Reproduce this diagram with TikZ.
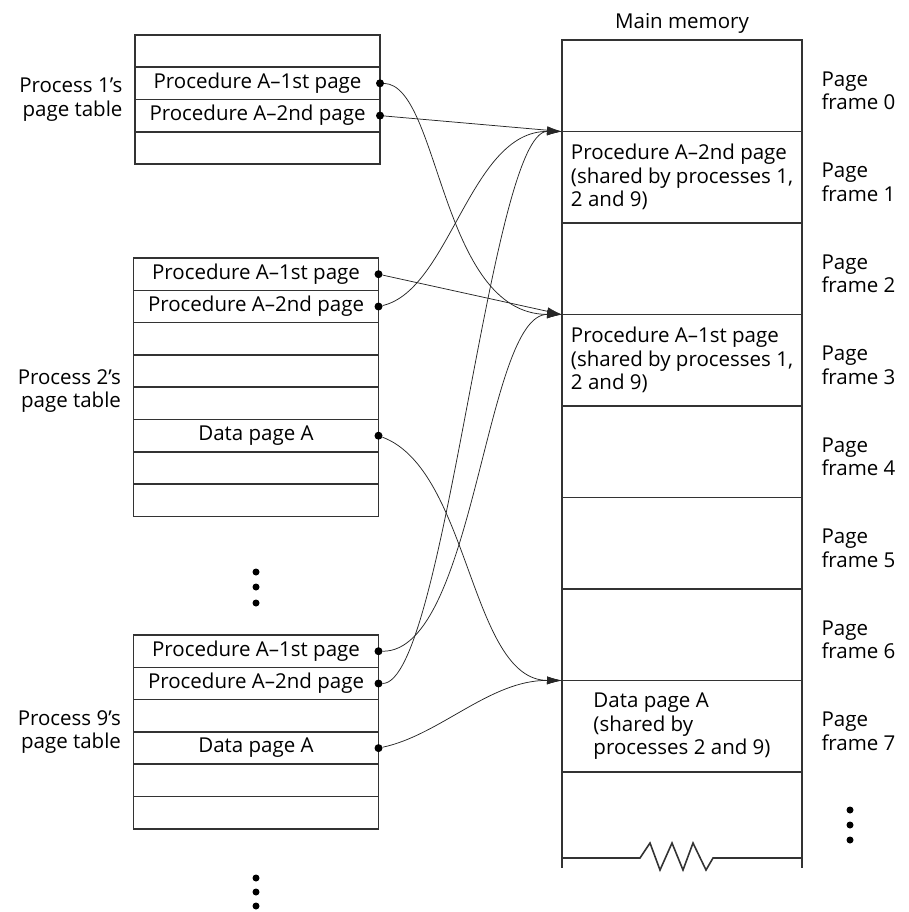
\documentclass[tikz,border=0pt]{standalone}
\usepackage{fontspec}
\setmainfont{Open Sans}
\usetikzlibrary{arrows.meta,positioning}

\begin{document}
\begin{tikzpicture}[x=1pt,y=-1pt,
    >={Latex[length=15pt,width=8pt]},
    font=\fontsize{20.5}{23.5}\selectfont,
    link/.style={->,line width=0.75pt,draw=black!85},
    ptrow/.style={draw=black!80,line width=1.6pt,minimum width=245pt,
      minimum height=32.3pt,inner sep=0pt,outer sep=0pt},
    memframe/.style={draw=black!80,line width=1.6pt,minimum width=240pt,
      minimum height=91.5pt,inner sep=0pt,outer sep=0pt,align=left},
    memline/.style={draw=black!80,line width=1.6pt},
    tablename/.style={align=right},
    pflabel/.style={align=left,anchor=west},
    ptrdot/.style={circle,fill=black,inner sep=0pt,minimum size=8pt}
  ]
    \useasboundingbox (0,0) rectangle (909,912);

    % process 1's page table
    \node[ptrow] (t1r0) at (257.5,51) {};
    \node[ptrow,below=0pt of t1r0] (t1r1) {Procedure A–1st page};
    \node[ptrow,below=0pt of t1r1] (t1r2) {Procedure A–2nd page};
    \node[ptrow,below=0pt of t1r2] (t1r3) {};
    \node[tablename,left=9pt of t1r1.south west] (t1name) {Process 1’s\\page table};

    % process 2's page table
    \node[ptrow] (t2r0) at (256,274.2) {Procedure A–1st page};
    \node[ptrow,below=0pt of t2r0] (t2r1) {Procedure A–2nd page};
    \node[ptrow,below=0pt of t2r1] (t2r2) {};
    \node[ptrow,below=0pt of t2r2] (t2r3) {};
    \node[ptrow,below=0pt of t2r3] (t2r4) {};
    \node[ptrow,below=0pt of t2r4] (t2r5) {Data page A};
    \node[ptrow,below=0pt of t2r5] (t2r6) {};
    \node[ptrow,below=0pt of t2r6] (t2r7) {};
    \node[tablename,left=9pt of t2r3.south west,yshift=-4pt] (t2name) {Process 2’s\\page table};

    % process 9's page table
    \node[ptrow] (t9r0) at (256,651.2) {Procedure A–1st page};
    \node[ptrow,below=0pt of t9r0] (t9r1) {Procedure A–2nd page};
    \node[ptrow,below=0pt of t9r1] (t9r2) {};
    \node[ptrow,below=0pt of t9r2] (t9r3) {Data page A};
    \node[ptrow,below=0pt of t9r3] (t9r4) {};
    \node[ptrow,below=0pt of t9r4] (t9r5) {};
    \node[tablename,left=9pt of t9r2.south west] (t9name) {Process 9’s\\page table};

    % main memory
    \node[memframe] (m0) at (682,85.75) {};
    \node[memframe,below=0pt of m0] (m1) {Procedure A–2nd page\\(shared by processes 1,\\2 and 9)};
    \node[memframe,below=0pt of m1] (m2) {};
    \node[memframe,below=0pt of m2] (m3) {Procedure A–1st page\\(shared by processes 1,\\2 and 9)};
    \node[memframe,below=0pt of m3] (m4) {};
    \node[memframe,below=0pt of m4] (m5) {};
    \node[memframe,below=0pt of m5] (m6) {};
    \node[memframe,below=0pt of m6] (m7) {Data page A\\(shared by\\processes 2 and 9)};
    \node[above=3pt of m0] (mtitle) {Main memory};
    \draw[memline] (m7.south west) -- ++(0,96);
    \draw[memline] (m7.south east) -- ++(0,96);
    \draw[memline] (562,858) -- (640,858) -- (650,843) -- (660,870) -- (672,843)
      -- (683,870) -- (693,843) -- (706,870) -- (713,858) -- (802,858);

    \node[pflabel,right=16pt of m0.east,yshift=-5pt] (pf0) {Page\\frame 0};
    \node[pflabel,right=16pt of m1.east,yshift=-5pt] (pf1) {Page\\frame 1};
    \node[pflabel,right=16pt of m2.east,yshift=-5pt] (pf2) {Page\\frame 2};
    \node[pflabel,right=16pt of m3.east,yshift=-5pt] (pf3) {Page\\frame 3};
    \node[pflabel,right=16pt of m4.east,yshift=-5pt] (pf4) {Page\\frame 4};
    \node[pflabel,right=16pt of m5.east,yshift=-5pt] (pf5) {Page\\frame 5};
    \node[pflabel,right=16pt of m6.east,yshift=-5pt] (pf6) {Page\\frame 6};
    \node[pflabel,right=16pt of m7.east,yshift=-5pt] (pf7) {Page\\frame 7};

    % pointers
    \node[ptrdot] (d1a) at (t1r1.east) {};
    \node[ptrdot] (d1b) at (t1r2.east) {};
    \node[ptrdot] (d2a) at (t2r0.east) {};
    \node[ptrdot] (d2b) at (t2r1.east) {};
    \node[ptrdot] (d2d) at (t2r5.east) {};
    \node[ptrdot] (d9a) at (t9r0.east) {};
    \node[ptrdot] (d9b) at (t9r1.east) {};
    \node[ptrdot] (d9d) at (t9r3.east) {};
    \draw[link] (d1b) -- (m1.north west);
    \draw[link] (d1a) .. controls (440,85) and (440,314) .. (m3.north west);
    \draw[link] (d2a) -- (m3.north west);
    \draw[link] (d2b) .. controls (450,290) and (470,131) .. (m1.north west);
    \draw[link] (d2d) .. controls (470,470) and (470,680) .. (m7.north west);
    \draw[link] (d9a) .. controls (475,652) and (485,314) .. (m3.north west);
    \draw[link] (d9b) .. controls (445,683) and (490,131) .. (m1.north west);
    \draw[link] (d9d) .. controls (440,735) and (490,680) .. (m7.north west);

    % more tables and frames
    \foreach \y in {572,587,603} \node[ptrdot,minimum size=7pt] (vm\y) at (256,\y) {};
    \foreach \y in {878,892,906} \node[ptrdot,minimum size=7pt] (vb\y) at (256,\y) {};
    \foreach \y in {810,825,840} \node[ptrdot,minimum size=7pt] (vr\y) at (850,\y) {};
  \end{tikzpicture}
\end{document}
